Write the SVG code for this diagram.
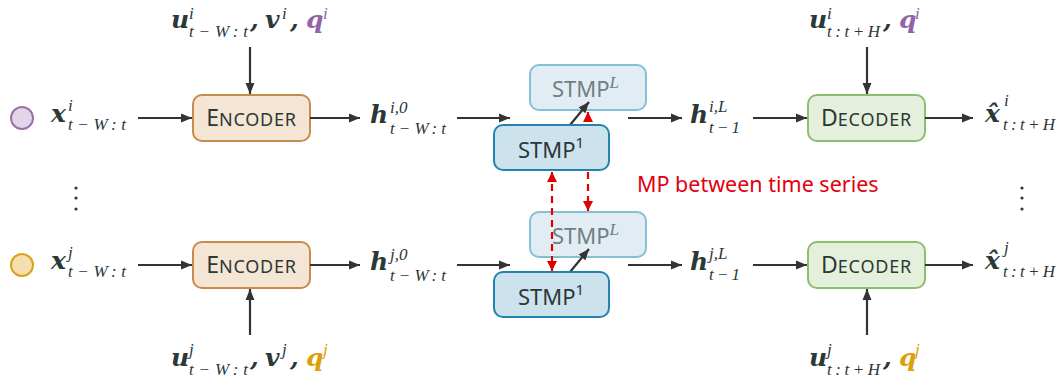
<svg xmlns="http://www.w3.org/2000/svg" width="1058" height="377" viewBox="0 0 1058 377">
<style>
.m{font-family:"DejaVu Serif",serif;font-style:italic;font-weight:bold;font-size:25px;fill:#2b3838}
.s{font-family:"Liberation Serif",serif;font-style:italic;font-size:17px;fill:#2b3838}
.p{fill:#9264a6}
.o{fill:#dd9f0c}
.box{font-family:"Noto Sans",sans-serif;fill:#2b3838;text-anchor:middle}
.big{font-size:23px}
.sm{font-size:18px;letter-spacing:0.8px}
.ln{stroke:#333;stroke-width:2.2;fill:none}
.rd{stroke:#e00000;stroke-width:2.2;fill:none;stroke-dasharray:7 5}
.enc{fill:#f5e5d4;stroke:#c98a4d;stroke-width:2}
.dec{fill:#e5f0dc;stroke:#8cbf6c;stroke-width:2}
.s1{fill:#cce2ed;stroke:#2283ae;stroke-width:2}
.sL{fill:#e1edf3;stroke:#86c0d7;stroke-width:2}
.stmp{font-family:"Noto Sans",sans-serif;font-size:22px;fill:#2b3838}
.stmpL{font-family:"Noto Sans",sans-serif;font-size:22px;fill:#6f7f84}
</style>
<defs>
<marker id="ah" markerUnits="userSpaceOnUse" markerWidth="12" markerHeight="10" refX="11" refY="5" orient="auto"><path d="M0,0.5 L11,5 L0,9.5 z" fill="#333"/></marker>
<marker id="rh" markerUnits="userSpaceOnUse" markerWidth="11" markerHeight="11" refX="10" refY="5.5" orient="auto"><path d="M0,0.5 L10,5.5 L0,10.5 z" fill="#e00000"/></marker>
<marker id="rhs" markerUnits="userSpaceOnUse" markerWidth="11" markerHeight="11" refX="10" refY="5.5" orient="auto-start-reverse"><path d="M0,0.5 L10,5.5 L0,10.5 z" fill="#e00000"/></marker>
</defs>

<g id="series-i">
<circle cx="22" cy="118" r="11" fill="#e2d5e8" stroke="#9b70aa" stroke-width="2"/>
<text class="m" x="51" y="122">x</text><text class="s" x="68" y="111">i</text><text class="s" x="68" y="130" textLength="58" lengthAdjust="spacing">t−W:t</text>
</g>
<g id="series-j">
<circle cx="22" cy="265" r="11" fill="#f5dfae" stroke="#d9a21b" stroke-width="2"/>
<text class="m" x="51" y="269">x</text><text class="s" x="68" y="258">j</text><text class="s" x="68" y="277" textLength="58" lengthAdjust="spacing">t−W:t</text>
</g>
<g id="dots">
<circle cx="76" cy="188" r="1.6" fill="#2b3838"/><circle cx="76" cy="198" r="1.6" fill="#2b3838"/><circle cx="76" cy="209" r="1.6" fill="#2b3838"/>
<circle cx="1022" cy="188" r="1.6" fill="#2b3838"/><circle cx="1022" cy="198" r="1.6" fill="#2b3838"/><circle cx="1022" cy="209" r="1.6" fill="#2b3838"/>
</g>

<g id="enc-input-i">
<text class="m" x="171" y="28">u</text><text class="s" x="189" y="19">i</text><text class="s" x="189" y="37" textLength="59" lengthAdjust="spacing">t−W:t</text>
<text class="m" x="250" y="28">,</text>
<text class="m" x="265" y="28">v</text><text class="s" x="282" y="19">i</text>
<text class="m" x="290" y="28">,</text>
<text class="m p" x="306" y="28">q</text><text class="s p" x="323" y="19">i</text>
</g>
<g id="enc-input-j">
<text class="m" x="171" y="366">u</text><text class="s" x="189" y="355">j</text><text class="s" x="189" y="375" textLength="59" lengthAdjust="spacing">t−W:t</text>
<text class="m" x="250" y="366">,</text>
<text class="m" x="265" y="366">v</text><text class="s" x="282" y="355">j</text>
<text class="m" x="290" y="366">,</text>
<text class="m o" x="306" y="366">q</text><text class="s o" x="323" y="355">j</text>
</g>
<g id="dec-input-i">
<text class="m" x="809" y="28">u</text><text class="s" x="827" y="19">i</text><text class="s" x="827" y="37" textLength="53" lengthAdjust="spacing">t:t+H</text>
<text class="m" x="883" y="28">,</text>
<text class="m p" x="899" y="28">q</text><text class="s p" x="915" y="19">i</text>
</g>
<g id="dec-input-j">
<text class="m" x="809" y="366">u</text><text class="s" x="827" y="355">j</text><text class="s" x="827" y="375" textLength="53" lengthAdjust="spacing">t:t+H</text>
<text class="m" x="883" y="366">,</text>
<text class="m o" x="899" y="366">q</text><text class="s o" x="915" y="355">j</text>
</g>

<g id="encoder-i"><rect class="enc" x="193" y="95" width="117" height="46" rx="9"/><text class="box" x="251.5" y="126"><tspan class="big">E</tspan><tspan class="sm">NCODER</tspan></text></g>
<g id="encoder-j"><rect class="enc" x="193" y="242" width="117" height="46" rx="9"/><text class="box" x="251.5" y="273"><tspan class="big">E</tspan><tspan class="sm">NCODER</tspan></text></g>
<g id="decoder-i"><rect class="dec" x="808" y="95" width="117" height="46" rx="9"/><text class="box" x="866.5" y="126"><tspan class="big">D</tspan><tspan class="sm">ECODER</tspan></text></g>
<g id="decoder-j"><rect class="dec" x="808" y="242" width="117" height="46" rx="9"/><text class="box" x="866.5" y="273"><tspan class="big">D</tspan><tspan class="sm">ECODER</tspan></text></g>

<g id="h0-i"><text class="m" x="370" y="123">h</text><text class="s" x="390" y="113">i,0</text><text class="s" x="390" y="134" textLength="56" lengthAdjust="spacing">t−W:t</text></g>
<g id="h0-j"><text class="m" x="370" y="270">h</text><text class="s" x="390" y="260">j,0</text><text class="s" x="390" y="281" textLength="56" lengthAdjust="spacing">t−W:t</text></g>
<g id="hL-i"><text class="m" x="690" y="123">h</text><text class="s" x="709" y="112">i,L</text><text class="s" x="709" y="133" textLength="31" lengthAdjust="spacing">t−1</text></g>
<g id="hL-j"><text class="m" x="690" y="270">h</text><text class="s" x="709" y="259">j,L</text><text class="s" x="709" y="280" textLength="31" lengthAdjust="spacing">t−1</text></g>
<g id="out-i"><text class="m" x="985" y="122">x̂</text><text class="s" x="1004" y="106">i</text><text class="s" x="1003" y="130" textLength="52" lengthAdjust="spacing">t:t+H</text></g>
<g id="out-j"><text class="m" x="985" y="269">x̂</text><text class="s" x="1004" y="253">j</text><text class="s" x="1003" y="277" textLength="52" lengthAdjust="spacing">t:t+H</text></g>

<g id="stmpL-i"><rect class="sL" x="530" y="65" width="116" height="45" rx="9"/><text class="stmpL" x="552" y="97">STMP<tspan font-family="Liberation Serif" font-style="italic" font-size="17" dy="-9">L</tspan></text></g>
<g id="stmpL-j"><rect class="sL" x="530" y="212" width="116" height="45" rx="9"/><text class="stmpL" x="552" y="244">STMP<tspan font-family="Liberation Serif" font-style="italic" font-size="17" dy="-9">L</tspan></text></g>

<g id="connectors">
<line class="ln" x1="138" y1="118" x2="192" y2="118" marker-end="url(#ah)"/>
<line class="ln" x1="310" y1="118" x2="360" y2="118" marker-end="url(#ah)"/>
<line class="ln" x1="457" y1="118" x2="510" y2="118" marker-end="url(#ah)"/>
<line class="ln" x1="628" y1="118" x2="682" y2="118" marker-end="url(#ah)"/>
<line class="ln" x1="753" y1="118" x2="807" y2="118" marker-end="url(#ah)"/>
<line class="ln" x1="925" y1="118" x2="973" y2="118" marker-end="url(#ah)"/>
<line class="ln" x1="138" y1="265" x2="192" y2="265" marker-end="url(#ah)"/>
<line class="ln" x1="310" y1="265" x2="360" y2="265" marker-end="url(#ah)"/>
<line class="ln" x1="457" y1="265" x2="510" y2="265" marker-end="url(#ah)"/>
<line class="ln" x1="628" y1="265" x2="682" y2="265" marker-end="url(#ah)"/>
<line class="ln" x1="753" y1="265" x2="807" y2="265" marker-end="url(#ah)"/>
<line class="ln" x1="925" y1="265" x2="973" y2="265" marker-end="url(#ah)"/>
<line class="ln" x1="250" y1="47" x2="250" y2="94" marker-end="url(#ah)"/>
<line class="ln" x1="867" y1="47" x2="867" y2="94" marker-end="url(#ah)"/>
<line class="ln" x1="250" y1="335" x2="250" y2="289" marker-end="url(#ah)"/>
<line class="ln" x1="867" y1="335" x2="867" y2="289" marker-end="url(#ah)"/>
<line class="rd" x1="588" y1="112" x2="588" y2="211" marker-start="url(#rhs)" marker-end="url(#rh)"/>
<line class="rd" x1="552" y1="172" x2="552" y2="271" marker-start="url(#rhs)" marker-end="url(#rh)"/>
<line class="ln" x1="570" y1="125" x2="589" y2="102" marker-end="url(#ah)"/>
<line class="ln" x1="570" y1="272" x2="589" y2="249" marker-end="url(#ah)"/>
</g>

<g id="stmp1-i"><rect class="s1" x="494" y="125" width="115" height="45" rx="9"/><text class="stmp" x="518" y="158">STMP<tspan font-size="15" dy="-10">1</tspan></text></g>
<g id="stmp1-j"><rect class="s1" x="494" y="272" width="115" height="45" rx="9"/><text class="stmp" x="518" y="305">STMP<tspan font-size="15" dy="-10">1</tspan></text></g>

<text id="mp-label" x="637" y="192" font-family="Noto Sans, sans-serif" font-size="21.5" fill="#e3000f">MP between time series</text>
</svg>
